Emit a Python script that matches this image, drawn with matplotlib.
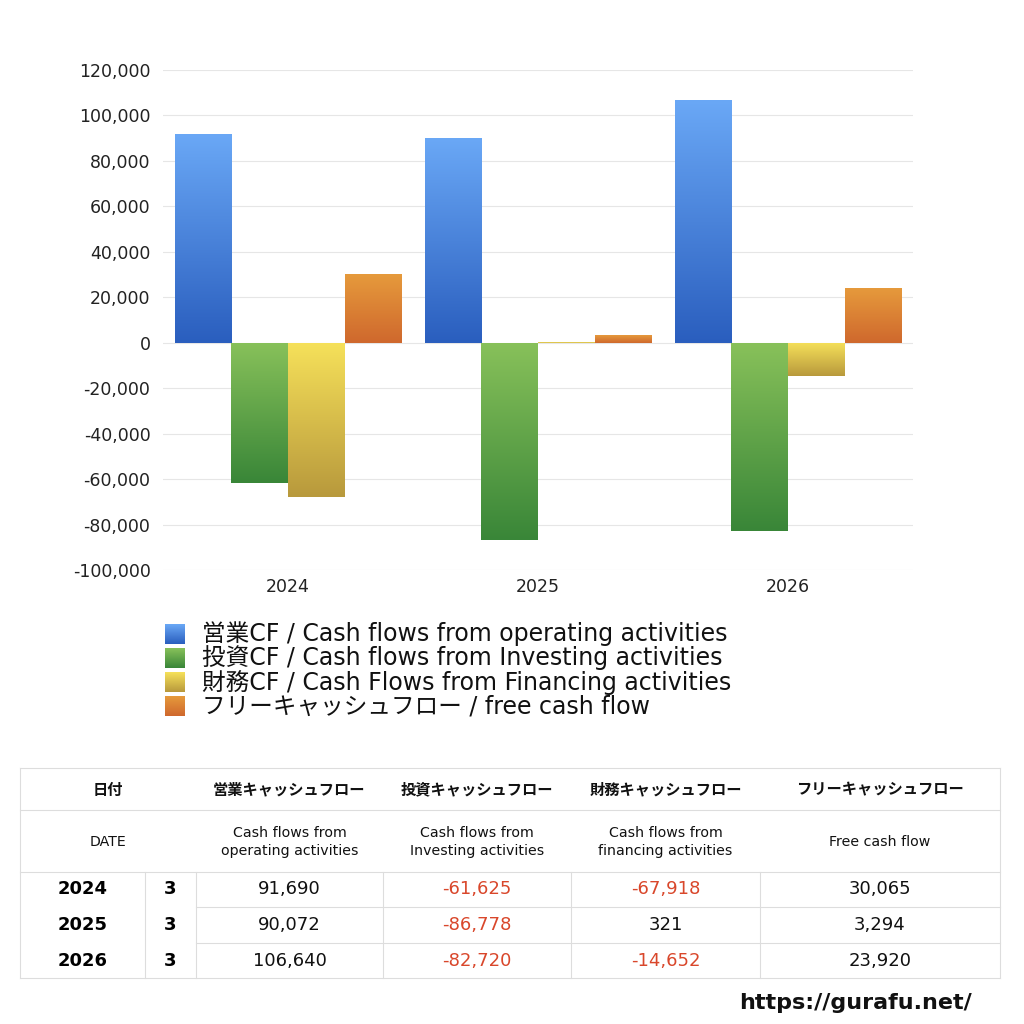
import numpy as np
import matplotlib.pyplot as plt
from matplotlib.colors import LinearSegmentedColormap
from matplotlib.lines import Line2D

plt.rcParams['font.family'] = ['DejaVu Sans', 'Noto Sans CJK JP']

years = ['2024', '2025', '2026']
months = ['3', '3', '3']
operating = [91690, 90072, 106640]
investing = [-61625, -86778, -82720]
financing = [-67918, 321, -14652]
free_cf = [30065, 3294, 23920]

series_labels = [
    '営業CF / Cash flows from operating activities',
    '投資CF / Cash flows from Investing activities',
    '財務CF / Cash Flows from Financing activities',
    'フリーキャッシュフロー / free cash flow',
]
# (top colour, bottom colour) of each bar gradient
gradients = [
    ('#6aa8f6', '#2a5ebe'),
    ('#88c15a', '#398638'),
    ('#f6e15a', '#b8993c'),
    ('#e69a3c', '#cf682d'),
]
head_jp = ['日付', '営業キャッシュフロー', '投資キャッシュフロー', '財務キャッシュフロー', 'フリーキャッシュフロー']
head_en = ['DATE', 'Cash flows from\noperating activities', 'Cash flows from\nInvesting activities',
           'Cash flows from\nfinancing activities', 'Free cash flow']

fig = plt.figure(figsize=(10.24, 10.24), dpi=100)
W = H = 1024.0


def fx(px):
    return px / W


def fy(py):
    return 1 - py / H


ax = fig.add_axes([fx(163), fy(570), fx(913) - fx(163), fy(70) - fy(570)])
x = np.arange(len(years))
bw = 0.227
values = [operating, investing, financing, free_cf]
for i, vals in enumerate(values):
    cmap = LinearSegmentedColormap.from_list('g%d' % i, [gradients[i][1], gradients[i][0]])
    bars = ax.bar(x + (i - 1.5) * bw, vals, bw, color='none', edgecolor='none', zorder=3)
    for b in bars:
        x0, y0 = b.get_x(), b.get_y()
        w, h = b.get_width(), b.get_height()
        lo, hi = min(y0, y0 + h), max(y0, y0 + h)
        img = ax.imshow(np.linspace(0, 1, 256).reshape(-1, 1), cmap=cmap, aspect='auto',
                        origin='lower', extent=[x0, x0 + w, lo, hi], zorder=3)
        img.set_clip_path(b)

ax.set_xlim(-0.5, 2.5)
ax.set_ylim(-100000, 120000)
ax.set_yticks(np.arange(-100000, 120001, 20000))
ax.yaxis.set_major_formatter(plt.FuncFormatter(lambda v, p: '{:,.0f}'.format(v)))
ax.set_xticks(x)
ax.set_xticklabels(years)
ax.tick_params(length=0, labelsize=12.5, colors='#222222', pad=9)
ax.tick_params(axis='x', pad=6)
ax.grid(axis='y', color='#e6e6e6', linewidth=0.8, zorder=0)
for s in ax.spines.values():
    s.set_visible(False)

# legend
for i, lab in enumerate(series_labels):
    cy = 634 + 24 * i
    sw = fig.add_axes([fx(165), fy(cy + 10), fx(20), fy(cy - 10) - fy(cy + 10)])
    cmap = LinearSegmentedColormap.from_list('l%d' % i, [gradients[i][1], gradients[i][0]])
    sw.imshow(np.linspace(0, 1, 64).reshape(-1, 1), cmap=cmap, aspect='auto', origin='lower')
    sw.axis('off')
    fig.text(fx(202), fy(cy), lab, fontsize=17, va='center', ha='left', color='#111111')

# table
line_c = '#dddddd'
cols = [20, 145, 196, 383, 571, 760, 1000]
rows = [768, 810, 872, 907, 943, 978]


def hline(py, x0, x1):
    fig.add_artist(Line2D([fx(x0), fx(x1)], [fy(py), fy(py)], color=line_c, lw=0.8))


def vline(px, y0, y1):
    fig.add_artist(Line2D([fx(px), fx(px)], [fy(y0), fy(y1)], color=line_c, lw=0.8))


for py in rows[:3] + [rows[5]]:
    hline(py, 20, 1000)
for py in rows[3:5]:
    hline(py, 196, 1000)
vline(20, 768, 978)
vline(1000, 768, 978)
for px in cols[1:-1]:
    vline(px, 872, 978)

head_x = [108] + [(cols[k] + cols[k + 1]) / 2 for k in range(2, 6)]
for k in range(5):
    fig.text(fx(head_x[k]), fy(790), head_jp[k], fontsize=11, fontweight='bold',
             ha='center', va='center', color='#111111')
    fig.text(fx(head_x[k]), fy(842), head_en[k], fontsize=10.2, ha='center', va='center',
             color='#111111', linespacing=1.3)

red = '#d9472b'
for r in range(3):
    cy = (rows[r + 2] + rows[r + 3]) / 2
    fig.text(fx(83), fy(cy), years[r], fontsize=13, fontweight='bold', ha='center', va='center')
    fig.text(fx(170), fy(cy), months[r], fontsize=13, fontweight='bold', ha='center', va='center')
    for k, vals in enumerate(values):
        v = vals[r]
        fig.text(fx((cols[k + 2] + cols[k + 3]) / 2), fy(cy), '{:,}'.format(v), fontsize=13,
                 ha='center', va='center', color=red if v < 0 else '#111111')

fig.text(fx(972), fy(1003), 'https://gurafu.net/', fontsize=16, fontweight='bold',
         ha='right', va='center', color='#111111')

fig.savefig('out.png', dpi=100, facecolor='white')
